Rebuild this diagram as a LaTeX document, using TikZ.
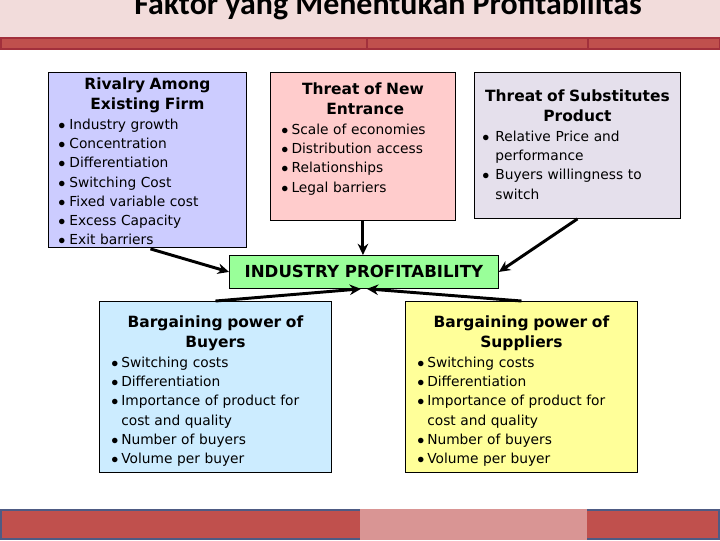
\documentclass[tikz,border=0pt]{standalone}
\usepackage{fontspec}
\setmainfont{DejaVu Sans}
\newfontfamily\titlefont{Carlito}
\usetikzlibrary{calc,positioning,arrows.meta}
\definecolor{hdrpink}{HTML}{F2DCDB}
\definecolor{hdrdark}{HTML}{A2303C}
\definecolor{bandred}{HTML}{C0504D}
\definecolor{bandlight}{HTML}{D99594}
\definecolor{bandframe}{HTML}{4E5B84}
\tikzset{rivfill/.style={fill={rgb,255:red,204;green,204;blue,255}},entrfill/.style={fill={rgb,255:red,255;green,204;blue,204}},
subsfill/.style={fill={rgb,255:red,229;green,224;blue,236}},proffill/.style={fill={rgb,255:red,153;green,255;blue,153}},
buyfill/.style={fill={rgb,255:red,204;green,236;blue,255}},supfill/.style={fill={rgb,255:red,255;green,255;blue,153}}}
\newlength\bulw
\newcommand{\bitem}[1]{\hangindent=\bulw\hangafter=1\noindent\makebox[\bulw][l]{$\bullet$}#1\par}
\newcommand{\headfont}{\fontsize{11}{14.9}\selectfont\bfseries}
\newcommand{\bodyfont}{\fontsize{9.8}{13.7}\selectfont}

\begin{document}
\begin{tikzpicture}[x=0.025cm,y=-0.025cm]

\tikzset{box/.style={draw=black,line width=0.6pt,inner sep=0pt,anchor=north west},
txt/.style={inner sep=0pt,anchor=base,align=left,font=\bodyfont},
arr/.style={line width=2.1pt,-{Stealth[length=8pt,width=7.5pt]}}}

\useasboundingbox (0,0) rectangle (720,540);
\clip (0,0) rectangle (720,540);

% Header
\fill[hdrpink] (0,0) rectangle (720,37);
\fill[hdrdark] (0,36.5) rectangle (720,50);
\foreach \a/\b in {1.5/366, 368/587, 589/718.5} \fill[bandred] (\a,39) rectangle (\b,47.5);
\node[font={\titlefont\bfseries\fontsize{22.7}{26}\selectfont},anchor=base,inner sep=0pt] (title) at (388,14) {Faktor yang Menentukan Profitabilitas};

% Footer
\fill[bandframe] (0,509) rectangle (720,540);
\fill[bandred] (2,511) rectangle (718,538);
\fill[bandlight] (360,509) rectangle (587,540);

% Boxes
\node[box,rivfill,minimum width=4.95cm,minimum height=4.375cm] (riv) at (48,72) {};
\node[box,entrfill,minimum width=4.625cm,minimum height=3.7cm] (entr) at (270,72) {};
\node[box,subsfill,minimum width=5.15cm,minimum height=3.65cm] (subs) at (474,72) {};
\node[box,proffill,minimum width=6.725cm,minimum height=0.825cm] (prof) at (229,255) {};
\node[box,buyfill,minimum width=5.8cm,minimum height=4.275cm] (buy) at (99,301) {};
\node[box,supfill,minimum width=5.8cm,minimum height=4.275cm] (sup) at (405,301) {};

% Box texts
\node[txt,text width=4.45cm] (rivT) at ($(riv.north)+(0,17)$) {\setlength\bulw{7.8pt}%
{\centering\headfont Rivalry Among\\Existing Firm\par}
\bitem{Industry growth}\bitem{Concentration}\bitem{Differentiation}\bitem{Switching Cost}
\bitem{Fixed variable cost}\bitem{Excess Capacity}\bitem{Exit barriers}};
\node[txt,text width=4.075cm] (entrT) at ($(entr.north)+(0,22)$) {\setlength\bulw{7.2pt}%
{\centering\headfont Threat of New\\\ Entrance\par}
\bitem{Scale of economies}\bitem{Distribution access}\bitem{Relationships}\bitem{Legal barriers}};
\node[txt,text width=4.75cm] (subsT) at ($(subs.north)+(0,29)$) {\setlength\bulw{9.2pt}%
{\centering\headfont Threat of Substitutes\\Product\par}
\bitem{Relative Price and\newline performance}\bitem{Buyers willingness to\newline switch}};
\node[inner sep=0pt,font={\fontsize{11.8}{14}\selectfont\bfseries}] (profT) at (prof.center) {INDUSTRY PROFITABILITY};
\node[txt,text width=5.2cm] (buyT) at ($(buy.north)+(0,26)$) {\setlength\bulw{7pt}%
{\centering\headfont Bargaining power of\\Buyers\par}
\bitem{Switching costs}\bitem{Differentiation}\bitem{Importance of product for\newline cost and quality}
\bitem{Number of buyers}\bitem{Volume per buyer}};
\node[txt,text width=5.2cm] (supT) at ($(sup.north)+(0,26)$) {\setlength\bulw{7pt}%
{\centering\headfont Bargaining power of\\Suppliers\par}
\bitem{Switching costs}\bitem{Differentiation}\bitem{Importance of product for\newline cost and quality}
\bitem{Number of buyers}\bitem{Volume per buyer}};

% Arrows into industry profitability
\draw[arr] ($(riv.south)+(3,1)$) -- (prof.west);
\draw[arr] (entr.south) -- (entr.south |- prof.north);
\draw[arr] (subs.south) -- (prof.east);
\draw[arr] (buy.north) -- ($(prof.south)+(-3,0)$);
\draw[arr] (sup.north) -- ($(prof.south)+(3,0)$);

\end{tikzpicture}
\end{document}
